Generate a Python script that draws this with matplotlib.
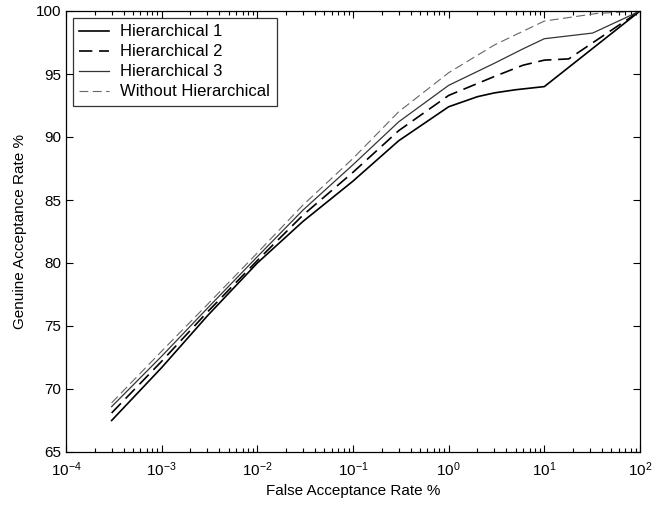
import matplotlib
matplotlib.use("Agg")
import matplotlib.pyplot as plt
from matplotlib.ticker import LogLocator

plt.rcParams['font.family'] = ['Liberation Sans', 'DejaVu Sans']
plt.rcParams['mathtext.fontset'] = 'custom'
plt.rcParams['mathtext.rm'] = 'Liberation Sans'
plt.rcParams['mathtext.it'] = 'Liberation Sans'

# Data
far_h1 = [3e-4, 1e-3, 3e-3, 1e-2, 3e-2, 1e-1, 3e-1, 1, 2, 3, 5, 10, 100]
gar_h1 = [67.5, 71.7, 75.8, 80.0, 83.3, 86.5, 89.7, 92.4, 93.2, 93.5, 93.75, 94.0, 100]

far_h2 = [3e-4, 1e-3, 3e-3, 1e-2, 3e-2, 1e-1, 3e-1, 1, 3, 6, 10, 18, 100]
gar_h2 = [68.1, 72.2, 76.1, 80.2, 83.8, 87.2, 90.5, 93.3, 94.8, 95.7, 96.1, 96.2, 100]

far_h3 = [3e-4, 1e-3, 3e-3, 1e-2, 3e-2, 1e-1, 3e-1, 1, 3, 6, 10, 32, 100]
gar_h3 = [68.6, 72.6, 76.4, 80.5, 84.2, 87.8, 91.2, 94.1, 95.85, 97.0, 97.8, 98.25, 100]

far_wo = [3e-4, 1e-3, 3e-3, 1e-2, 3e-2, 1e-1, 3e-1, 1, 3, 6, 10, 35, 100]
gar_wo = [68.9, 73.0, 76.7, 80.8, 84.6, 88.3, 92.0, 95.1, 97.3, 98.4, 99.2, 99.8, 100]

labels = ["Hierarchical 1", "Hierarchical 2", "Hierarchical 3", "Without Hierarchical"]
yticks = [65, 70, 75, 80, 85, 90, 95, 100]
xticks = [1e-4, 1e-3, 1e-2, 1e-1, 1e0, 1e1, 1e2]
xticklabels = [r"$10^{-4}$", r"$10^{-3}$", r"$10^{-2}$", r"$10^{-1}$", r"$10^{0}$", r"$10^{1}$", r"$10^{2}$"]

fig = plt.figure(figsize=(6.56, 5.09), dpi=100)
ax = fig.add_axes([66/656, 1 - 452/509, (640-66)/656, (452-11)/509])

ax.plot(far_h1, gar_h1, color='black', lw=1.2, ls='-', label=labels[0])
ax.plot(far_h2, gar_h2, color='black', lw=1.2, ls=(0, (8, 4)), label=labels[1])
ax.plot(far_h3, gar_h3, color='#333333', lw=0.9, ls='-', label=labels[2])
ax.plot(far_wo, gar_wo, color='#666666', lw=0.8, ls=(0, (8, 4)), label=labels[3])

ax.set_xscale('log')
ax.set_xlim(1e-4, 1e2)
ax.set_ylim(65, 100)
ax.set_xticks(xticks)
ax.set_xticklabels(xticklabels)
ax.xaxis.set_minor_locator(LogLocator(base=10, subs=range(2, 10), numticks=20))
ax.set_yticks(yticks)
ax.set_yticklabels([str(v) for v in yticks])

ax.tick_params(which='both', direction='in', top=True, right=True, labelsize=11)
ax.tick_params(which='major', length=5, width=0.8)
ax.tick_params(which='minor', length=3, width=0.8)
ax.tick_params(axis='x', pad=6)
for s in ax.spines.values():
    s.set_linewidth(0.9)

ax.set_xlabel("False Acceptance Rate %", fontsize=11, labelpad=4)
ax.set_ylabel("Genuine Acceptance Rate %", fontsize=11, labelpad=6)

leg = ax.legend(loc='upper left', fontsize=12, frameon=True, fancybox=False,
                edgecolor='black', borderpad=0.4, handlelength=1.8,
                handletextpad=0.65, labelspacing=0.3, borderaxespad=0.4)
leg.get_frame().set_linewidth(0.9)

fig.savefig("out.png", dpi=100)
